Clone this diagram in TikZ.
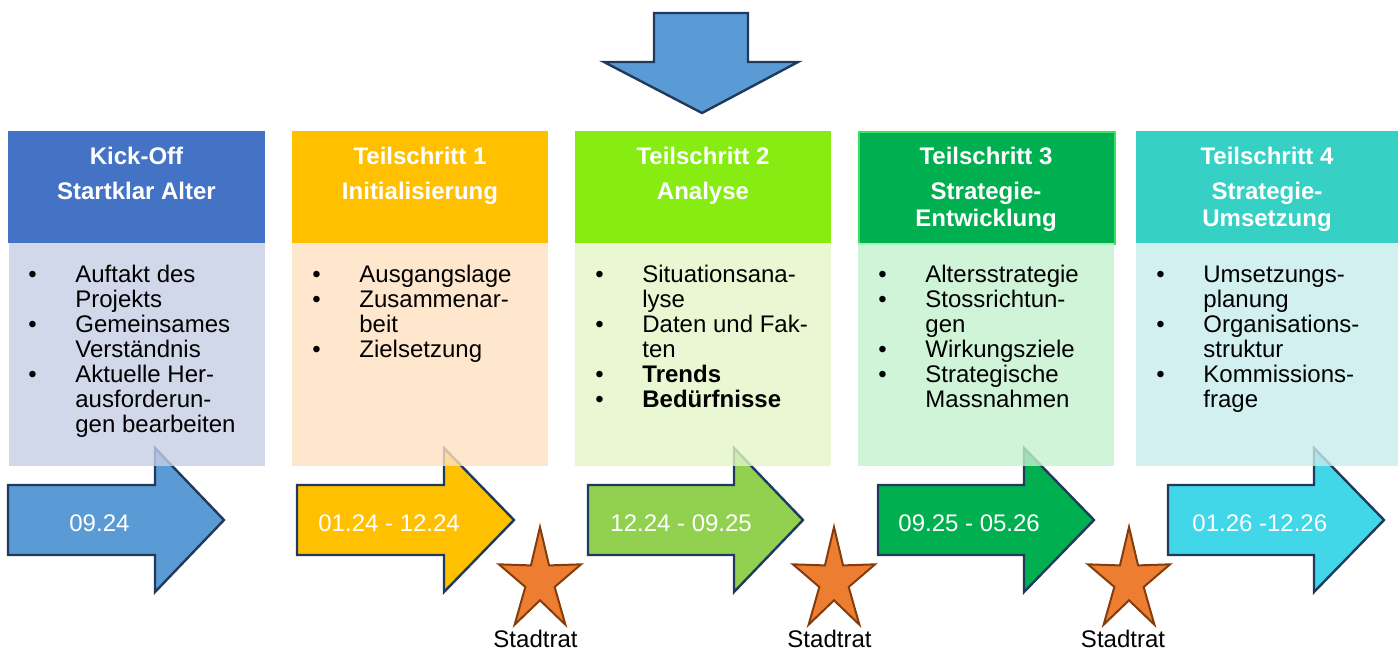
\documentclass[tikz,border=0pt]{standalone}
\usepackage{fontspec}
\setmainfont{Liberation Sans}
\usetikzlibrary{shapes.geometric, positioning}
\definecolor{kickblau}{HTML}{4472C4}
\definecolor{initgelb}{HTML}{FFC000}
\definecolor{analysegruen}{HTML}{86EC12}
\definecolor{strategiegruen}{HTML}{00B050}
\definecolor{randgruen}{HTML}{3EE060}
\definecolor{umsetztuerkis}{HTML}{36D1C4}
\definecolor{blassblau}{RGB}{198,206,229}
\definecolor{blassgelb}{RGB}{255,225,192}
\definecolor{blassgruen}{RGB}{227,246,199}
\definecolor{blassmint}{RGB}{196,241,206}
\definecolor{blasstuerkis}{RGB}{199,236,236}
\definecolor{pfeilblau}{HTML}{5B9BD5}
\definecolor{pfeilgruen}{HTML}{92D050}
\definecolor{pfeiltuerkis}{HTML}{41D6E8}
\definecolor{pfeilrand}{HTML}{1F3A5C}
\definecolor{sternorange}{HTML}{ED7D31}
\definecolor{sternrand}{HTML}{843C0C}
\tikzset{
    x=0.5pt, y=-0.5pt, % one unit is one pixel of the original, y runs downwards
    kopf/.style={rectangle, anchor=north west, inner sep=0pt, minimum height=56pt}, % coloured title box
    rumpf/.style={rectangle, anchor=north west, inner sep=0pt, minimum height=111.5pt, fill opacity=0.8}, % pale box under the title
    titel/.style={anchor=base, inner sep=0pt, text=white, font=\fontsize{12}{13.5}\selectfont\bfseries}, % title lines
    liste/.style={anchor=base west, inner sep=0pt, font=\fontsize{12}{12.5}\selectfont}, % bullet list
    pfeil/.style={draw=pfeilrand, line width=1.2pt, line join=miter}, % block arrows
    datum/.style={anchor=base west, inner sep=0pt, text=white, font=\fontsize{12}{14}\selectfont}, % dates in the arrows
    stern/.style={star, star points=5, star point ratio=2.8, minimum size=54pt, inner sep=0pt, xscale=0.80, fill=sternorange, draw=sternrand, line width=1pt}, % council stars
    rat/.style={anchor=base, inner sep=0pt, font=\fontsize{12}{14}\selectfont}, % text under the stars
}
\begin{document}
\begin{tikzpicture}
\useasboundingbox (0,0) rectangle (1400,650);
\draw[pfeil, fill=pfeilblau] (654,13) -- (748,13) -- (748,62) -- (798,62) -- (702,113) -- (604,62) -- (654,62) -- cycle;

\draw[pfeil, fill=pfeilblau] (8,485) -- (155,485) -- (155,448) -- (224,520) -- (155,592) -- (155,555) -- (8,555) -- cycle;
\draw[pfeil, fill=initgelb] (297,485) -- (444,485) -- (444,448) -- (514,520) -- (444,592) -- (444,555) -- (297,555) -- cycle;
\draw[pfeil, fill=pfeilgruen] (588,485) -- (734,485) -- (734,448) -- (803,520) -- (734,592) -- (734,555) -- (588,555) -- cycle;
\draw[pfeil, fill=strategiegruen] (878,485) -- (1024,485) -- (1024,448) -- (1094,520) -- (1024,592) -- (1024,555) -- (878,555) -- cycle;
\draw[pfeil, fill=pfeiltuerkis] (1168,485) -- (1314,485) -- (1314,448) -- (1384,520) -- (1314,592) -- (1314,555) -- (1168,555) -- cycle;

\node[datum] (p1) at (69,531) {09.24};
\node[datum] (p2) at (318,531) {01.24 - 12.24};
\node[datum] (p3) at (610,531) {12.24 - 09.25};
\node[datum] (p4) at (898,531) {09.25 - 05.26};
\node[datum] (p5) at (1192,531) {01.26 -12.26};

\node[kopf, fill=kickblau, minimum width=128.5pt] (h1) at (8,131) {};
\node[kopf, fill=initgelb, minimum width=128pt] (h2) at (292,131) {};
\node[kopf, fill=analysegruen, minimum width=128pt] (h3) at (575,131) {};
\node[kopf, fill=strategiegruen, draw=randgruen, line width=1pt, minimum width=128pt] (h4) at (858,131) {};
\node[kopf, fill=umsetztuerkis, minimum width=131pt] (h5) at (1136,131) {};

\node[rumpf, fill=blassblau, minimum width=128pt] (b1) at (9,243) {};
\node[rumpf, fill=blassgelb, minimum width=128pt] (b2) at (292,243) {};
\node[rumpf, fill=blassgruen, minimum width=128pt] (b3) at (575,243) {};
\node[rumpf, fill=blassmint, minimum width=128pt] (b4) at (858,243) {};
\node[rumpf, fill=blasstuerkis, minimum width=131pt] (b5) at (1136,243) {};

\node[titel] (k1) at (136.5,164) {\begin{tabular}[t]{@{}c@{}}Kick-Off\\[4pt]Startklar Alter\end{tabular}};
\node[titel] (k2) at (420,164) {\begin{tabular}[t]{@{}c@{}}Teilschritt 1\\[4pt]Initialisierung\end{tabular}};
\node[titel] (k3) at (703,164) {\begin{tabular}[t]{@{}c@{}}Teilschritt 2\\[4pt]Analyse\end{tabular}};
\node[titel] (k4) at (986,164) {\begin{tabular}[t]{@{}c@{}}Teilschritt 3\\[4pt]Strategie-\\Entwicklung\end{tabular}};
\node[titel] (k5) at (1267,164) {\begin{tabular}[t]{@{}c@{}}Teilschritt 4\\[4pt]Strategie-\\Umsetzung\end{tabular}};

\node[liste] (t1) at (28,282) {\begin{tabular}[t]{@{}p{23.5pt}@{}l@{}}
\textbullet & Auftakt des\\ & Projekts\\ \textbullet & Gemeinsames\\ & Verständnis\\
\textbullet & Aktuelle Her-\\ & ausforderun-\\ & gen bearbeiten\end{tabular}};
\node[liste] (t2) at (312,282) {\begin{tabular}[t]{@{}p{23.5pt}@{}l@{}}
\textbullet & Ausgangslage\\ \textbullet & Zusammenar-\\ & beit\\ \textbullet & Zielsetzung\end{tabular}};
\node[liste] (t3) at (595,282) {\begin{tabular}[t]{@{}p{23.5pt}@{}l@{}}
\textbullet & Situationsana-\\ & lyse\\ \textbullet & Daten und Fak-\\ & ten\\
\textbullet & \textbf{Trends}\\ \textbullet & \textbf{Bedürfnisse}\end{tabular}};
\node[liste] (t4) at (878,282) {\begin{tabular}[t]{@{}p{23.5pt}@{}l@{}}
\textbullet & Altersstrategie\\ \textbullet & Stossrichtun-\\ & gen\\
\textbullet & Wirkungsziele\\ \textbullet & Strategische\\ & Massnahmen\end{tabular}};
\node[liste] (t5) at (1156,282) {\begin{tabular}[t]{@{}p{23.5pt}@{}l@{}}
\textbullet & Umsetzungs-\\ & planung\\ \textbullet & Organisations-\\ & struktur\\
\textbullet & Kommissions-\\ & frage\end{tabular}};

\node[stern] (s1) at (540,581) {};
\node[stern] (s2) at (834,581) {};
\node[stern] (s3) at (1129,581) {};
\node[rat] (l1) at (535.5,647) {Stadtrat};
\node[rat] (l2) at (829.5,647) {Stadtrat};
\node[rat] (l3) at (1123,647) {Stadtrat};
\end{tikzpicture}
\end{document}
